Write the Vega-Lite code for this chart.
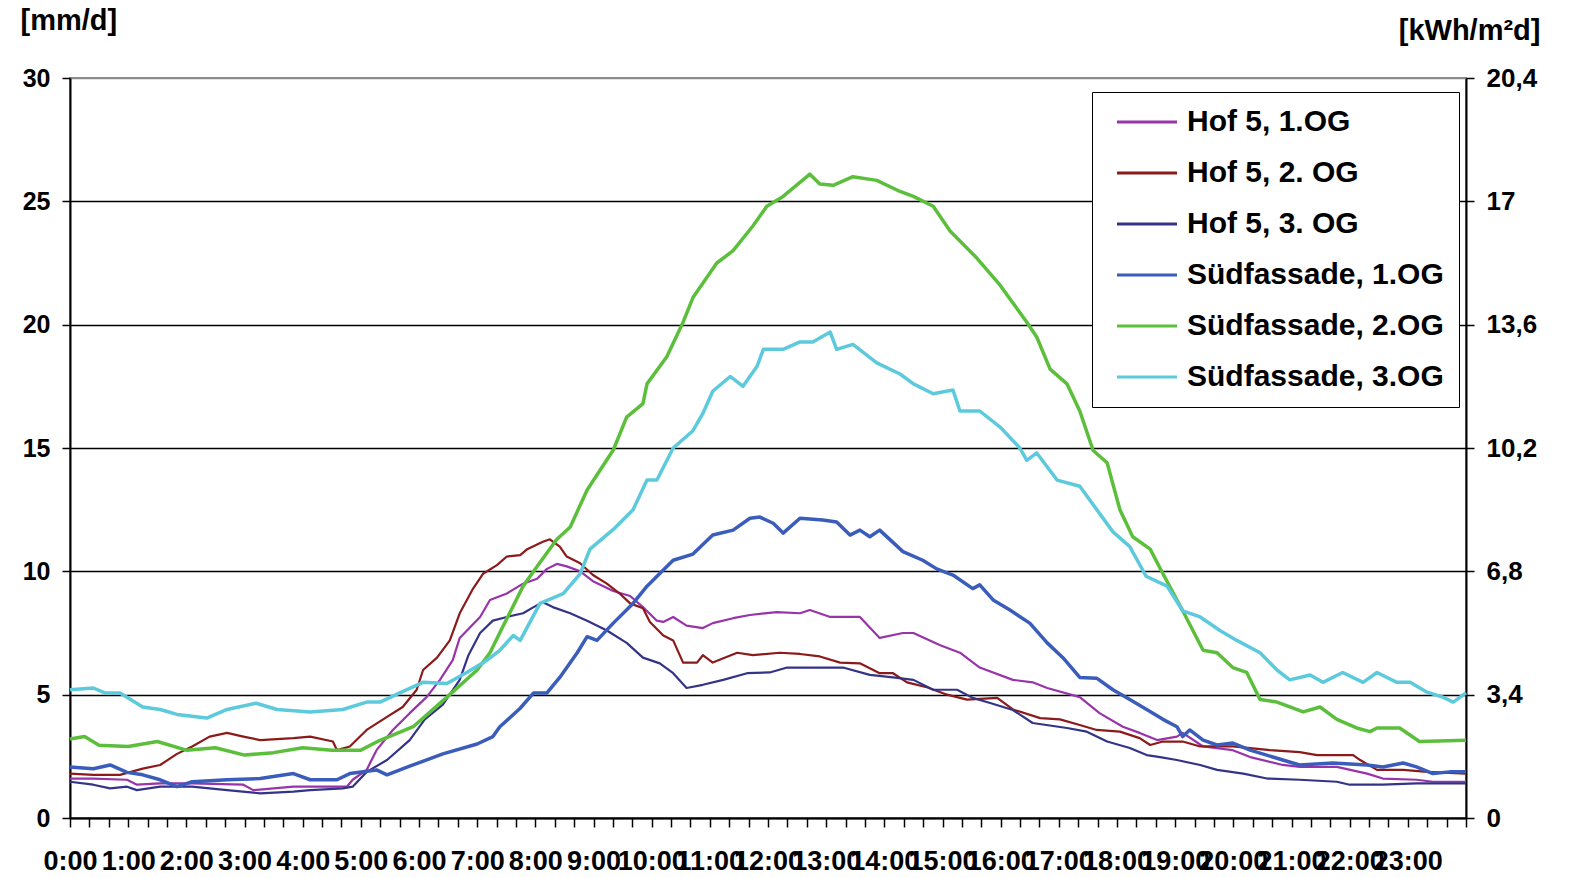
{
"$schema": "https://vega.github.io/schema/vega-lite/v6.json",
"width": 1396, "height": 740,
"autosize": {"type": "none"},
"padding": {"left": 70, "top": 78, "right": 103, "bottom": 60},
"background": "white",
"config": {"view": {"stroke": "#8c8c8c", "strokeWidth": 2}, "font": "Liberation Sans"},
"datasets": {"d": [
{"s":"Hof 5, 1.OG","h":0,"v":1.6},{"s":"Hof 5, 1.OG","h":0.4,"v":1.6},{"s":"Hof 5, 1.OG","h":0.98,"v":1.55},{"s":"Hof 5, 1.OG","h":1.15,"v":1.35},{"s":"Hof 5, 1.OG","h":1.55,"v":1.4},{"s":"Hof 5, 1.OG","h":2.1,"v":1.4},{"s":"Hof 5, 1.OG","h":2.98,"v":1.35},{"s":"Hof 5, 1.OG","h":3.15,"v":1.13},{"s":"Hof 5, 1.OG","h":3.84,"v":1.27},{"s":"Hof 5, 1.OG","h":4.76,"v":1.27},{"s":"Hof 5, 1.OG","h":4.86,"v":1.55},{"s":"Hof 5, 1.OG","h":5.1,"v":1.95},{"s":"Hof 5, 1.OG","h":5.27,"v":2.75},{"s":"Hof 5, 1.OG","h":5.55,"v":3.57},{"s":"Hof 5, 1.OG","h":5.84,"v":4.25},{"s":"Hof 5, 1.OG","h":6.13,"v":4.9},{"s":"Hof 5, 1.OG","h":6.36,"v":5.6},{"s":"Hof 5, 1.OG","h":6.58,"v":6.4},{"s":"Hof 5, 1.OG","h":6.7,"v":7.3},{"s":"Hof 5, 1.OG","h":7.05,"v":8.15},{"s":"Hof 5, 1.OG","h":7.22,"v":8.84},{"s":"Hof 5, 1.OG","h":7.51,"v":9.1},{"s":"Hof 5, 1.OG","h":7.79,"v":9.5},{"s":"Hof 5, 1.OG","h":8.03,"v":9.7},{"s":"Hof 5, 1.OG","h":8.2,"v":10.1},{"s":"Hof 5, 1.OG","h":8.37,"v":10.3},{"s":"Hof 5, 1.OG","h":8.54,"v":10.2},{"s":"Hof 5, 1.OG","h":8.77,"v":10.0},{"s":"Hof 5, 1.OG","h":8.99,"v":9.6},{"s":"Hof 5, 1.OG","h":9.34,"v":9.2},{"s":"Hof 5, 1.OG","h":9.63,"v":9.0},{"s":"Hof 5, 1.OG","h":9.85,"v":8.55},{"s":"Hof 5, 1.OG","h":10.09,"v":8.0},{"s":"Hof 5, 1.OG","h":10.2,"v":7.95},{"s":"Hof 5, 1.OG","h":10.37,"v":8.15},{"s":"Hof 5, 1.OG","h":10.6,"v":7.8},{"s":"Hof 5, 1.OG","h":10.88,"v":7.7},{"s":"Hof 5, 1.OG","h":11.05,"v":7.9},{"s":"Hof 5, 1.OG","h":11.4,"v":8.1},{"s":"Hof 5, 1.OG","h":11.69,"v":8.23},{"s":"Hof 5, 1.OG","h":12.15,"v":8.35},{"s":"Hof 5, 1.OG","h":12.55,"v":8.3},{"s":"Hof 5, 1.OG","h":12.72,"v":8.43},{"s":"Hof 5, 1.OG","h":13.07,"v":8.15},{"s":"Hof 5, 1.OG","h":13.58,"v":8.15},{"s":"Hof 5, 1.OG","h":13.92,"v":7.3},{"s":"Hof 5, 1.OG","h":14.32,"v":7.5},{"s":"Hof 5, 1.OG","h":14.5,"v":7.5},{"s":"Hof 5, 1.OG","h":14.96,"v":7.0},{"s":"Hof 5, 1.OG","h":15.3,"v":6.7},{"s":"Hof 5, 1.OG","h":15.64,"v":6.1},{"s":"Hof 5, 1.OG","h":16.21,"v":5.6},{"s":"Hof 5, 1.OG","h":16.55,"v":5.5},{"s":"Hof 5, 1.OG","h":16.8,"v":5.27},{"s":"Hof 5, 1.OG","h":17.36,"v":4.9},{"s":"Hof 5, 1.OG","h":17.7,"v":4.25},{"s":"Hof 5, 1.OG","h":18.1,"v":3.7},{"s":"Hof 5, 1.OG","h":18.39,"v":3.45},{"s":"Hof 5, 1.OG","h":18.69,"v":3.16},{"s":"Hof 5, 1.OG","h":19.03,"v":3.3},{"s":"Hof 5, 1.OG","h":19.13,"v":3.45},{"s":"Hof 5, 1.OG","h":19.48,"v":2.9},{"s":"Hof 5, 1.OG","h":19.99,"v":2.75},{"s":"Hof 5, 1.OG","h":20.29,"v":2.47},{"s":"Hof 5, 1.OG","h":20.85,"v":2.15},{"s":"Hof 5, 1.OG","h":21.14,"v":2.07},{"s":"Hof 5, 1.OG","h":21.78,"v":2.07},{"s":"Hof 5, 1.OG","h":22.3,"v":1.8},{"s":"Hof 5, 1.OG","h":22.57,"v":1.6},{"s":"Hof 5, 1.OG","h":23.15,"v":1.55},{"s":"Hof 5, 1.OG","h":23.43,"v":1.47},{"s":"Hof 5, 1.OG","h":24,"v":1.47},
{"s":"Hof 5, 2. OG","h":0,"v":1.8},{"s":"Hof 5, 2. OG","h":0.4,"v":1.75},{"s":"Hof 5, 2. OG","h":0.86,"v":1.75},{"s":"Hof 5, 2. OG","h":1.25,"v":2.0},{"s":"Hof 5, 2. OG","h":1.55,"v":2.15},{"s":"Hof 5, 2. OG","h":1.84,"v":2.6},{"s":"Hof 5, 2. OG","h":2.1,"v":2.9},{"s":"Hof 5, 2. OG","h":2.4,"v":3.3},{"s":"Hof 5, 2. OG","h":2.7,"v":3.45},{"s":"Hof 5, 2. OG","h":2.98,"v":3.3},{"s":"Hof 5, 2. OG","h":3.27,"v":3.16},{"s":"Hof 5, 2. OG","h":3.84,"v":3.24},{"s":"Hof 5, 2. OG","h":4.13,"v":3.3},{"s":"Hof 5, 2. OG","h":4.52,"v":3.1},{"s":"Hof 5, 2. OG","h":4.59,"v":2.75},{"s":"Hof 5, 2. OG","h":4.81,"v":2.9},{"s":"Hof 5, 2. OG","h":5.1,"v":3.57},{"s":"Hof 5, 2. OG","h":5.45,"v":4.1},{"s":"Hof 5, 2. OG","h":5.72,"v":4.5},{"s":"Hof 5, 2. OG","h":5.96,"v":5.2},{"s":"Hof 5, 2. OG","h":6.07,"v":6.0},{"s":"Hof 5, 2. OG","h":6.31,"v":6.5},{"s":"Hof 5, 2. OG","h":6.53,"v":7.2},{"s":"Hof 5, 2. OG","h":6.7,"v":8.3},{"s":"Hof 5, 2. OG","h":6.93,"v":9.3},{"s":"Hof 5, 2. OG","h":7.1,"v":9.9},{"s":"Hof 5, 2. OG","h":7.34,"v":10.25},{"s":"Hof 5, 2. OG","h":7.51,"v":10.6},{"s":"Hof 5, 2. OG","h":7.74,"v":10.66},{"s":"Hof 5, 2. OG","h":7.86,"v":10.9},{"s":"Hof 5, 2. OG","h":8.13,"v":11.2},{"s":"Hof 5, 2. OG","h":8.25,"v":11.3},{"s":"Hof 5, 2. OG","h":8.42,"v":11.0},{"s":"Hof 5, 2. OG","h":8.54,"v":10.6},{"s":"Hof 5, 2. OG","h":8.77,"v":10.33},{"s":"Hof 5, 2. OG","h":8.99,"v":9.85},{"s":"Hof 5, 2. OG","h":9.23,"v":9.5},{"s":"Hof 5, 2. OG","h":9.45,"v":9.1},{"s":"Hof 5, 2. OG","h":9.63,"v":8.7},{"s":"Hof 5, 2. OG","h":9.85,"v":8.5},{"s":"Hof 5, 2. OG","h":9.97,"v":7.95},{"s":"Hof 5, 2. OG","h":10.2,"v":7.4},{"s":"Hof 5, 2. OG","h":10.37,"v":7.2},{"s":"Hof 5, 2. OG","h":10.54,"v":6.3},{"s":"Hof 5, 2. OG","h":10.78,"v":6.3},{"s":"Hof 5, 2. OG","h":10.88,"v":6.6},{"s":"Hof 5, 2. OG","h":11.05,"v":6.3},{"s":"Hof 5, 2. OG","h":11.47,"v":6.7},{"s":"Hof 5, 2. OG","h":11.74,"v":6.6},{"s":"Hof 5, 2. OG","h":12.2,"v":6.7},{"s":"Hof 5, 2. OG","h":12.55,"v":6.65},{"s":"Hof 5, 2. OG","h":12.89,"v":6.55},{"s":"Hof 5, 2. OG","h":13.24,"v":6.3},{"s":"Hof 5, 2. OG","h":13.58,"v":6.27},{"s":"Hof 5, 2. OG","h":13.92,"v":5.87},{"s":"Hof 5, 2. OG","h":14.15,"v":5.87},{"s":"Hof 5, 2. OG","h":14.39,"v":5.5},{"s":"Hof 5, 2. OG","h":14.73,"v":5.3},{"s":"Hof 5, 2. OG","h":15.08,"v":5.0},{"s":"Hof 5, 2. OG","h":15.42,"v":4.8},{"s":"Hof 5, 2. OG","h":15.94,"v":4.87},{"s":"Hof 5, 2. OG","h":16.21,"v":4.4},{"s":"Hof 5, 2. OG","h":16.68,"v":4.05},{"s":"Hof 5, 2. OG","h":17.02,"v":4.0},{"s":"Hof 5, 2. OG","h":17.36,"v":3.77},{"s":"Hof 5, 2. OG","h":17.65,"v":3.57},{"s":"Hof 5, 2. OG","h":18.05,"v":3.5},{"s":"Hof 5, 2. OG","h":18.39,"v":3.24},{"s":"Hof 5, 2. OG","h":18.57,"v":2.96},{"s":"Hof 5, 2. OG","h":18.79,"v":3.1},{"s":"Hof 5, 2. OG","h":19.13,"v":3.1},{"s":"Hof 5, 2. OG","h":19.43,"v":2.9},{"s":"Hof 5, 2. OG","h":19.99,"v":2.9},{"s":"Hof 5, 2. OG","h":20.63,"v":2.75},{"s":"Hof 5, 2. OG","h":21.14,"v":2.67},{"s":"Hof 5, 2. OG","h":21.44,"v":2.55},{"s":"Hof 5, 2. OG","h":22.06,"v":2.55},{"s":"Hof 5, 2. OG","h":22.18,"v":2.35},{"s":"Hof 5, 2. OG","h":22.47,"v":1.95},{"s":"Hof 5, 2. OG","h":22.92,"v":1.95},{"s":"Hof 5, 2. OG","h":23.33,"v":1.87},{"s":"Hof 5, 2. OG","h":24,"v":1.8},
{"s":"Hof 5, 3. OG","h":0,"v":1.47},{"s":"Hof 5, 3. OG","h":0.4,"v":1.35},{"s":"Hof 5, 3. OG","h":0.69,"v":1.2},{"s":"Hof 5, 3. OG","h":0.98,"v":1.27},{"s":"Hof 5, 3. OG","h":1.15,"v":1.13},{"s":"Hof 5, 3. OG","h":1.55,"v":1.27},{"s":"Hof 5, 3. OG","h":2.1,"v":1.27},{"s":"Hof 5, 3. OG","h":2.7,"v":1.13},{"s":"Hof 5, 3. OG","h":3.27,"v":1.0},{"s":"Hof 5, 3. OG","h":3.84,"v":1.07},{"s":"Hof 5, 3. OG","h":4.13,"v":1.13},{"s":"Hof 5, 3. OG","h":4.69,"v":1.2},{"s":"Hof 5, 3. OG","h":4.86,"v":1.27},{"s":"Hof 5, 3. OG","h":5.1,"v":1.87},{"s":"Hof 5, 3. OG","h":5.45,"v":2.35},{"s":"Hof 5, 3. OG","h":5.84,"v":3.16},{"s":"Hof 5, 3. OG","h":6.1,"v":4.0},{"s":"Hof 5, 3. OG","h":6.41,"v":4.6},{"s":"Hof 5, 3. OG","h":6.7,"v":5.6},{"s":"Hof 5, 3. OG","h":6.85,"v":6.6},{"s":"Hof 5, 3. OG","h":7.05,"v":7.5},{"s":"Hof 5, 3. OG","h":7.27,"v":8.0},{"s":"Hof 5, 3. OG","h":7.51,"v":8.15},{"s":"Hof 5, 3. OG","h":7.79,"v":8.3},{"s":"Hof 5, 3. OG","h":7.97,"v":8.55},{"s":"Hof 5, 3. OG","h":8.13,"v":8.75},{"s":"Hof 5, 3. OG","h":8.3,"v":8.55},{"s":"Hof 5, 3. OG","h":8.6,"v":8.3},{"s":"Hof 5, 3. OG","h":8.89,"v":8.0},{"s":"Hof 5, 3. OG","h":9.23,"v":7.6},{"s":"Hof 5, 3. OG","h":9.57,"v":7.1},{"s":"Hof 5, 3. OG","h":9.85,"v":6.5},{"s":"Hof 5, 3. OG","h":10.14,"v":6.27},{"s":"Hof 5, 3. OG","h":10.37,"v":5.87},{"s":"Hof 5, 3. OG","h":10.6,"v":5.27},{"s":"Hof 5, 3. OG","h":10.88,"v":5.4},{"s":"Hof 5, 3. OG","h":11.23,"v":5.6},{"s":"Hof 5, 3. OG","h":11.64,"v":5.87},{"s":"Hof 5, 3. OG","h":12.03,"v":5.9},{"s":"Hof 5, 3. OG","h":12.33,"v":6.1},{"s":"Hof 5, 3. OG","h":12.6,"v":6.1},{"s":"Hof 5, 3. OG","h":13.29,"v":6.1},{"s":"Hof 5, 3. OG","h":13.75,"v":5.8},{"s":"Hof 5, 3. OG","h":14.15,"v":5.7},{"s":"Hof 5, 3. OG","h":14.5,"v":5.6},{"s":"Hof 5, 3. OG","h":14.84,"v":5.2},{"s":"Hof 5, 3. OG","h":15.25,"v":5.2},{"s":"Hof 5, 3. OG","h":15.52,"v":4.87},{"s":"Hof 5, 3. OG","h":15.82,"v":4.66},{"s":"Hof 5, 3. OG","h":16.21,"v":4.38},{"s":"Hof 5, 3. OG","h":16.55,"v":3.85},{"s":"Hof 5, 3. OG","h":17.14,"v":3.65},{"s":"Hof 5, 3. OG","h":17.48,"v":3.5},{"s":"Hof 5, 3. OG","h":17.83,"v":3.1},{"s":"Hof 5, 3. OG","h":18.22,"v":2.84},{"s":"Hof 5, 3. OG","h":18.51,"v":2.55},{"s":"Hof 5, 3. OG","h":18.74,"v":2.47},{"s":"Hof 5, 3. OG","h":19.03,"v":2.35},{"s":"Hof 5, 3. OG","h":19.43,"v":2.15},{"s":"Hof 5, 3. OG","h":19.72,"v":1.95},{"s":"Hof 5, 3. OG","h":20.17,"v":1.8},{"s":"Hof 5, 3. OG","h":20.58,"v":1.6},{"s":"Hof 5, 3. OG","h":21.14,"v":1.55},{"s":"Hof 5, 3. OG","h":21.78,"v":1.47},{"s":"Hof 5, 3. OG","h":22.0,"v":1.35},{"s":"Hof 5, 3. OG","h":22.57,"v":1.35},{"s":"Hof 5, 3. OG","h":23.15,"v":1.4},{"s":"Hof 5, 3. OG","h":24,"v":1.4},
{"s":"Südfassade, 1.OG","h":0,"v":2.07},{"s":"Südfassade, 1.OG","h":0.4,"v":2.0},{"s":"Südfassade, 1.OG","h":0.69,"v":2.15},{"s":"Südfassade, 1.OG","h":0.98,"v":1.85},{"s":"Südfassade, 1.OG","h":1.25,"v":1.75},{"s":"Südfassade, 1.OG","h":1.55,"v":1.55},{"s":"Südfassade, 1.OG","h":1.84,"v":1.27},{"s":"Südfassade, 1.OG","h":2.1,"v":1.47},{"s":"Südfassade, 1.OG","h":2.7,"v":1.55},{"s":"Südfassade, 1.OG","h":3.27,"v":1.6},{"s":"Südfassade, 1.OG","h":3.84,"v":1.8},{"s":"Südfassade, 1.OG","h":4.13,"v":1.55},{"s":"Südfassade, 1.OG","h":4.59,"v":1.55},{"s":"Südfassade, 1.OG","h":4.81,"v":1.8},{"s":"Südfassade, 1.OG","h":5.27,"v":1.95},{"s":"Südfassade, 1.OG","h":5.45,"v":1.75},{"s":"Südfassade, 1.OG","h":5.84,"v":2.1},{"s":"Südfassade, 1.OG","h":6.41,"v":2.6},{"s":"Südfassade, 1.OG","h":7.0,"v":3.0},{"s":"Südfassade, 1.OG","h":7.27,"v":3.3},{"s":"Südfassade, 1.OG","h":7.39,"v":3.7},{"s":"Südfassade, 1.OG","h":7.74,"v":4.45},{"s":"Südfassade, 1.OG","h":7.97,"v":5.07},{"s":"Südfassade, 1.OG","h":8.2,"v":5.07},{"s":"Südfassade, 1.OG","h":8.42,"v":5.7},{"s":"Südfassade, 1.OG","h":8.72,"v":6.7},{"s":"Südfassade, 1.OG","h":8.89,"v":7.35},{"s":"Südfassade, 1.OG","h":9.06,"v":7.2},{"s":"Südfassade, 1.OG","h":9.34,"v":7.9},{"s":"Südfassade, 1.OG","h":9.68,"v":8.7},{"s":"Südfassade, 1.OG","h":9.92,"v":9.4},{"s":"Südfassade, 1.OG","h":10.2,"v":10.05},{"s":"Südfassade, 1.OG","h":10.37,"v":10.45},{"s":"Südfassade, 1.OG","h":10.71,"v":10.7},{"s":"Südfassade, 1.OG","h":11.05,"v":11.47},{"s":"Südfassade, 1.OG","h":11.4,"v":11.67},{"s":"Südfassade, 1.OG","h":11.69,"v":12.15},{"s":"Südfassade, 1.OG","h":11.86,"v":12.2},{"s":"Südfassade, 1.OG","h":12.09,"v":11.95},{"s":"Südfassade, 1.OG","h":12.26,"v":11.55},{"s":"Südfassade, 1.OG","h":12.55,"v":12.15},{"s":"Südfassade, 1.OG","h":12.94,"v":12.08},{"s":"Südfassade, 1.OG","h":13.18,"v":12.0},{"s":"Südfassade, 1.OG","h":13.41,"v":11.47},{"s":"Südfassade, 1.OG","h":13.58,"v":11.67},{"s":"Südfassade, 1.OG","h":13.75,"v":11.4},{"s":"Südfassade, 1.OG","h":13.92,"v":11.67},{"s":"Südfassade, 1.OG","h":14.32,"v":10.8},{"s":"Südfassade, 1.OG","h":14.66,"v":10.45},{"s":"Südfassade, 1.OG","h":14.9,"v":10.1},{"s":"Südfassade, 1.OG","h":15.18,"v":9.85},{"s":"Südfassade, 1.OG","h":15.52,"v":9.3},{"s":"Südfassade, 1.OG","h":15.64,"v":9.45},{"s":"Südfassade, 1.OG","h":15.87,"v":8.84},{"s":"Südfassade, 1.OG","h":16.16,"v":8.43},{"s":"Südfassade, 1.OG","h":16.5,"v":7.9},{"s":"Südfassade, 1.OG","h":16.8,"v":7.1},{"s":"Südfassade, 1.OG","h":17.07,"v":6.5},{"s":"Südfassade, 1.OG","h":17.36,"v":5.7},{"s":"Südfassade, 1.OG","h":17.65,"v":5.67},{"s":"Südfassade, 1.OG","h":17.93,"v":5.2},{"s":"Südfassade, 1.OG","h":18.22,"v":4.8},{"s":"Südfassade, 1.OG","h":18.51,"v":4.4},{"s":"Südfassade, 1.OG","h":18.79,"v":4.0},{"s":"Südfassade, 1.OG","h":19.03,"v":3.7},{"s":"Südfassade, 1.OG","h":19.13,"v":3.3},{"s":"Südfassade, 1.OG","h":19.25,"v":3.57},{"s":"Südfassade, 1.OG","h":19.48,"v":3.16},{"s":"Südfassade, 1.OG","h":19.72,"v":2.96},{"s":"Südfassade, 1.OG","h":19.99,"v":3.04},{"s":"Südfassade, 1.OG","h":20.29,"v":2.75},{"s":"Südfassade, 1.OG","h":20.85,"v":2.35},{"s":"Südfassade, 1.OG","h":21.14,"v":2.15},{"s":"Südfassade, 1.OG","h":21.71,"v":2.23},{"s":"Südfassade, 1.OG","h":22.3,"v":2.15},{"s":"Südfassade, 1.OG","h":22.57,"v":2.07},{"s":"Südfassade, 1.OG","h":22.92,"v":2.23},{"s":"Südfassade, 1.OG","h":23.15,"v":2.07},{"s":"Südfassade, 1.OG","h":23.43,"v":1.8},{"s":"Südfassade, 1.OG","h":23.72,"v":1.87},{"s":"Südfassade, 1.OG","h":24,"v":1.87},
{"s":"Südfassade, 2.OG","h":0,"v":3.2},{"s":"Südfassade, 2.OG","h":0.25,"v":3.3},{"s":"Südfassade, 2.OG","h":0.5,"v":2.95},{"s":"Südfassade, 2.OG","h":1.0,"v":2.9},{"s":"Südfassade, 2.OG","h":1.5,"v":3.1},{"s":"Südfassade, 2.OG","h":2.0,"v":2.75},{"s":"Südfassade, 2.OG","h":2.5,"v":2.85},{"s":"Südfassade, 2.OG","h":3.0,"v":2.55},{"s":"Südfassade, 2.OG","h":3.5,"v":2.65},{"s":"Südfassade, 2.OG","h":4.0,"v":2.85},{"s":"Südfassade, 2.OG","h":4.5,"v":2.75},{"s":"Südfassade, 2.OG","h":5.0,"v":2.75},{"s":"Südfassade, 2.OG","h":5.33,"v":3.15},{"s":"Südfassade, 2.OG","h":5.9,"v":3.7},{"s":"Südfassade, 2.OG","h":6.48,"v":4.9},{"s":"Südfassade, 2.OG","h":7.0,"v":6.0},{"s":"Südfassade, 2.OG","h":7.22,"v":6.7},{"s":"Südfassade, 2.OG","h":7.44,"v":7.75},{"s":"Südfassade, 2.OG","h":7.79,"v":9.4},{"s":"Südfassade, 2.OG","h":8.03,"v":10.2},{"s":"Südfassade, 2.OG","h":8.37,"v":11.3},{"s":"Südfassade, 2.OG","h":8.6,"v":11.8},{"s":"Südfassade, 2.OG","h":8.89,"v":13.3},{"s":"Südfassade, 2.OG","h":9.34,"v":14.92},{"s":"Südfassade, 2.OG","h":9.57,"v":16.25},{"s":"Südfassade, 2.OG","h":9.85,"v":16.8},{"s":"Südfassade, 2.OG","h":9.92,"v":17.6},{"s":"Südfassade, 2.OG","h":10.26,"v":18.7},{"s":"Südfassade, 2.OG","h":10.54,"v":20.1},{"s":"Südfassade, 2.OG","h":10.71,"v":21.1},{"s":"Südfassade, 2.OG","h":11.12,"v":22.5},{"s":"Südfassade, 2.OG","h":11.4,"v":23.0},{"s":"Südfassade, 2.OG","h":11.74,"v":24.0},{"s":"Südfassade, 2.OG","h":11.98,"v":24.8},{"s":"Südfassade, 2.OG","h":12.26,"v":25.2},{"s":"Südfassade, 2.OG","h":12.72,"v":26.1},{"s":"Südfassade, 2.OG","h":12.89,"v":25.7},{"s":"Südfassade, 2.OG","h":13.12,"v":25.65},{"s":"Südfassade, 2.OG","h":13.46,"v":26.0},{"s":"Südfassade, 2.OG","h":13.87,"v":25.85},{"s":"Südfassade, 2.OG","h":14.27,"v":25.4},{"s":"Südfassade, 2.OG","h":14.5,"v":25.2},{"s":"Südfassade, 2.OG","h":14.84,"v":24.8},{"s":"Südfassade, 2.OG","h":15.13,"v":23.8},{"s":"Südfassade, 2.OG","h":15.59,"v":22.7},{"s":"Südfassade, 2.OG","h":15.99,"v":21.6},{"s":"Südfassade, 2.OG","h":16.45,"v":20.1},{"s":"Südfassade, 2.OG","h":16.62,"v":19.5},{"s":"Südfassade, 2.OG","h":16.85,"v":18.2},{"s":"Südfassade, 2.OG","h":17.14,"v":17.6},{"s":"Südfassade, 2.OG","h":17.36,"v":16.5},{"s":"Südfassade, 2.OG","h":17.59,"v":14.9},{"s":"Südfassade, 2.OG","h":17.83,"v":14.4},{"s":"Südfassade, 2.OG","h":18.05,"v":12.5},{"s":"Südfassade, 2.OG","h":18.27,"v":11.4},{"s":"Südfassade, 2.OG","h":18.57,"v":10.9},{"s":"Südfassade, 2.OG","h":18.79,"v":9.9},{"s":"Südfassade, 2.OG","h":19.13,"v":8.4},{"s":"Südfassade, 2.OG","h":19.48,"v":6.8},{"s":"Südfassade, 2.OG","h":19.72,"v":6.7},{"s":"Südfassade, 2.OG","h":19.99,"v":6.1},{"s":"Südfassade, 2.OG","h":20.23,"v":5.9},{"s":"Südfassade, 2.OG","h":20.46,"v":4.8},{"s":"Südfassade, 2.OG","h":20.75,"v":4.7},{"s":"Südfassade, 2.OG","h":21.03,"v":4.45},{"s":"Südfassade, 2.OG","h":21.2,"v":4.3},{"s":"Südfassade, 2.OG","h":21.49,"v":4.5},{"s":"Südfassade, 2.OG","h":21.78,"v":4.0},{"s":"Südfassade, 2.OG","h":22.12,"v":3.65},{"s":"Südfassade, 2.OG","h":22.35,"v":3.5},{"s":"Südfassade, 2.OG","h":22.47,"v":3.65},{"s":"Südfassade, 2.OG","h":22.86,"v":3.65},{"s":"Südfassade, 2.OG","h":23.2,"v":3.1},{"s":"Südfassade, 2.OG","h":24,"v":3.15},
{"s":"Südfassade, 3.OG","h":0,"v":5.2},{"s":"Südfassade, 3.OG","h":0.4,"v":5.27},{"s":"Südfassade, 3.OG","h":0.6,"v":5.07},{"s":"Südfassade, 3.OG","h":0.86,"v":5.07},{"s":"Südfassade, 3.OG","h":1.25,"v":4.5},{"s":"Südfassade, 3.OG","h":1.55,"v":4.4},{"s":"Südfassade, 3.OG","h":1.84,"v":4.2},{"s":"Südfassade, 3.OG","h":2.35,"v":4.05},{"s":"Südfassade, 3.OG","h":2.7,"v":4.4},{"s":"Südfassade, 3.OG","h":3.2,"v":4.65},{"s":"Südfassade, 3.OG","h":3.56,"v":4.4},{"s":"Südfassade, 3.OG","h":4.13,"v":4.3},{"s":"Südfassade, 3.OG","h":4.69,"v":4.4},{"s":"Südfassade, 3.OG","h":5.1,"v":4.7},{"s":"Südfassade, 3.OG","h":5.33,"v":4.7},{"s":"Südfassade, 3.OG","h":5.67,"v":5.07},{"s":"Südfassade, 3.OG","h":6.07,"v":5.5},{"s":"Südfassade, 3.OG","h":6.48,"v":5.45},{"s":"Südfassade, 3.OG","h":6.82,"v":5.9},{"s":"Südfassade, 3.OG","h":7.17,"v":6.4},{"s":"Südfassade, 3.OG","h":7.39,"v":6.8},{"s":"Südfassade, 3.OG","h":7.62,"v":7.4},{"s":"Südfassade, 3.OG","h":7.74,"v":7.2},{"s":"Südfassade, 3.OG","h":8.08,"v":8.7},{"s":"Südfassade, 3.OG","h":8.48,"v":9.1},{"s":"Südfassade, 3.OG","h":8.77,"v":9.9},{"s":"Südfassade, 3.OG","h":8.94,"v":10.9},{"s":"Südfassade, 3.OG","h":9.34,"v":11.7},{"s":"Südfassade, 3.OG","h":9.68,"v":12.5},{"s":"Südfassade, 3.OG","h":9.92,"v":13.7},{"s":"Südfassade, 3.OG","h":10.09,"v":13.7},{"s":"Südfassade, 3.OG","h":10.37,"v":15.0},{"s":"Südfassade, 3.OG","h":10.71,"v":15.7},{"s":"Südfassade, 3.OG","h":10.88,"v":16.4},{"s":"Südfassade, 3.OG","h":11.05,"v":17.3},{"s":"Südfassade, 3.OG","h":11.35,"v":17.9},{"s":"Südfassade, 3.OG","h":11.57,"v":17.5},{"s":"Südfassade, 3.OG","h":11.81,"v":18.3},{"s":"Südfassade, 3.OG","h":11.92,"v":19.0},{"s":"Südfassade, 3.OG","h":12.26,"v":19.0},{"s":"Südfassade, 3.OG","h":12.55,"v":19.3},{"s":"Südfassade, 3.OG","h":12.77,"v":19.3},{"s":"Südfassade, 3.OG","h":13.07,"v":19.7},{"s":"Südfassade, 3.OG","h":13.18,"v":19.0},{"s":"Südfassade, 3.OG","h":13.46,"v":19.2},{"s":"Südfassade, 3.OG","h":13.87,"v":18.45},{"s":"Südfassade, 3.OG","h":14.27,"v":18.0},{"s":"Südfassade, 3.OG","h":14.5,"v":17.6},{"s":"Südfassade, 3.OG","h":14.84,"v":17.2},{"s":"Südfassade, 3.OG","h":15.18,"v":17.35},{"s":"Südfassade, 3.OG","h":15.3,"v":16.5},{"s":"Südfassade, 3.OG","h":15.64,"v":16.5},{"s":"Südfassade, 3.OG","h":15.99,"v":15.85},{"s":"Südfassade, 3.OG","h":16.33,"v":15.0},{"s":"Südfassade, 3.OG","h":16.45,"v":14.5},{"s":"Südfassade, 3.OG","h":16.62,"v":14.8},{"s":"Südfassade, 3.OG","h":16.97,"v":13.7},{"s":"Südfassade, 3.OG","h":17.36,"v":13.45},{"s":"Südfassade, 3.OG","h":17.93,"v":11.6},{"s":"Südfassade, 3.OG","h":18.22,"v":11.0},{"s":"Südfassade, 3.OG","h":18.5,"v":9.8},{"s":"Südfassade, 3.OG","h":18.86,"v":9.4},{"s":"Südfassade, 3.OG","h":19.13,"v":8.4},{"s":"Südfassade, 3.OG","h":19.43,"v":8.15},{"s":"Südfassade, 3.OG","h":19.77,"v":7.6},{"s":"Südfassade, 3.OG","h":20.06,"v":7.2},{"s":"Südfassade, 3.OG","h":20.46,"v":6.7},{"s":"Südfassade, 3.OG","h":20.75,"v":6.0},{"s":"Südfassade, 3.OG","h":20.97,"v":5.6},{"s":"Südfassade, 3.OG","h":21.32,"v":5.8},{"s":"Südfassade, 3.OG","h":21.54,"v":5.5},{"s":"Südfassade, 3.OG","h":21.88,"v":5.9},{"s":"Südfassade, 3.OG","h":22.23,"v":5.5},{"s":"Südfassade, 3.OG","h":22.47,"v":5.9},{"s":"Südfassade, 3.OG","h":22.81,"v":5.5},{"s":"Südfassade, 3.OG","h":23.04,"v":5.5},{"s":"Südfassade, 3.OG","h":23.33,"v":5.1},{"s":"Südfassade, 3.OG","h":23.6,"v":4.9},{"s":"Südfassade, 3.OG","h":23.78,"v":4.7},{"s":"Südfassade, 3.OG","h":24,"v":5.07}
]},
"data": {"name": "d"},
"layer": [
{
"transform": [{"filter": "indexof(datum.s, 'Hof') === 0"}],
"mark": {"type": "line", "strokeWidth": 2.2, "strokeJoin": "round"},
"encoding": {
"x": {"field": "h", "type": "quantitative", "scale": {"domain": [0, 24], "nice": false, "zero": false},
"axis": {"title": null, "tickCount": 200, "values": [0,0.3333,0.6667,1,1.3333,1.6667,2,2.3333,2.6667,3,3.3333,3.6667,4,4.3333,4.6667,5,5.3333,5.6667,6,6.3333,6.6667,7,7.3333,7.6667,8,8.3333,8.6667,9,9.3333,9.6667,10,10.3333,10.6667,11,11.3333,11.6667,12,12.3333,12.6667,13,13.3333,13.6667,14,14.3333,14.6667,15,15.3333,15.6667,16,16.3333,16.6667,17,17.3333,17.6667,18,18.3333,18.6667,19,19.3333,19.6667,20,20.3333,20.6667,21,21.3333,21.6667,22,22.3333,22.6667,23,23.3333,23.6667,24],
"labelExpr": "abs(datum.value - round(datum.value)) < 0.01 && datum.value < 23.5 ? round(datum.value) + ':00' : ''",
"labelOverlap": false, "labelFlush": false, "labelBound": false, "grid": false,
"domainColor": "black", "domainWidth": 2, "tickColor": "black", "tickWidth": 1.5, "tickSize": 9,
"labelFont": "Liberation Sans", "labelFontWeight": "bold", "labelFontSize": 27, "labelColor": "black", "labelPadding": 21}},
"y": {"field": "v", "type": "quantitative", "scale": {"domain": [0, 30], "nice": false},
"axis": {"values": [0,5,10,15,20,25,30], "grid": true,
"gridColor": {"condition": {"test": "datum.value >= 29", "value": "#8c8c8c"}, "value": "black"}, "gridWidth": 1.3,
"domainColor": "black", "domainWidth": 2, "tickColor": "black", "tickWidth": 1.5, "tickSize": 8, "labelPadding": 12,
"labelFont": "Liberation Sans", "labelFontWeight": "bold", "labelFontSize": 25, "labelColor": "black",
"title": "[mm/d]", "titleAngle": 0, "titleAlign": "left", "titleBaseline": "middle", "titleX": -50, "titleY": -58,
"titleFont": "Liberation Sans", "titleFontSize": 29, "titleFontWeight": "bold", "titleColor": "black"}},
"color": {"field": "s", "type": "nominal",
"scale": {"domain": ["Hof 5, 1.OG", "Hof 5, 2. OG", "Hof 5, 3. OG", "Südfassade, 1.OG", "Südfassade, 2.OG", "Südfassade, 3.OG"],
"range": ["#9933aa", "#8b1a1a", "#333388", "#3a5cbb", "#5cbf3c", "#5ccadc"]},
"legend": {"orient": "none", "legendX": 1022, "legendY": 14, "title": null,
"symbolType": "M-3,0H3", "symbolSize": 400, "symbolStrokeWidth": 3, "symbolOffset": 25, "labelOffset": 25, "labelLimit": 600,
"labelFont": "Liberation Sans", "labelFontWeight": "bold", "labelFontSize": 30, "labelColor": "black",
"strokeColor": "black", "fillColor": "white", "padding": 15, "rowPadding": 21}}
}
},
{
"transform": [{"filter": "indexof(datum.s, 'Süd') === 0"}],
"mark": {"type": "line", "strokeWidth": 3.5, "strokeJoin": "round"},
"encoding": {
"x": {"field": "h", "type": "quantitative"},
"y": {"field": "v", "type": "quantitative",
"axis": {"orient": "right", "values": [0,5,10,15,20,25,30], "grid": false,
"labelExpr": "replace(format(datum.value * 0.68, '.3~r'), '.', ',')",
"domainColor": "black", "domainWidth": 2, "tickColor": "black", "tickWidth": 1.5, "tickSize": 8, "labelPadding": 12,
"labelFont": "Liberation Sans", "labelFontWeight": "bold", "labelFontSize": 26, "labelColor": "black",
"title": "[kWh/m²d]", "titleAngle": 0, "titleAlign": "right", "titleBaseline": "middle", "titleX": 74, "titleY": -48,
"titleFont": "Liberation Sans", "titleFontSize": 29, "titleFontWeight": "bold", "titleColor": "black"}},
"color": {"field": "s", "type": "nominal"}
}
}
],
"resolve": {"axis": {"y": "independent"}}
}
